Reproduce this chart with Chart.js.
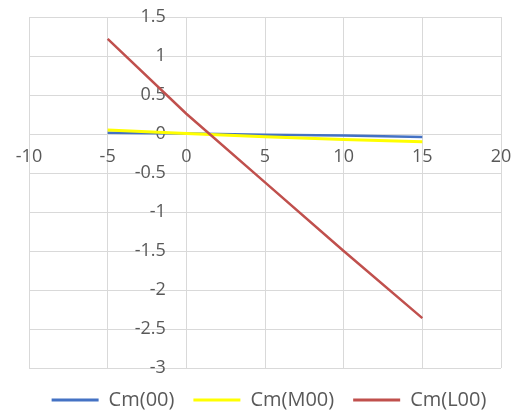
<!DOCTYPE html>
<html>
<head>
<meta charset="utf-8">
<script src="https://cdn.jsdelivr.net/npm/chart.js@4/dist/chart.umd.min.js"></script>
<style>
  html, body { margin: 0; padding: 0; background: #ffffff; }
  #wrap { width: 516px; height: 415px; }
</style>
</head>
<body>
<div id="wrap"><canvas id="c" width="516" height="415"></canvas></div>
<script>
// Moment coefficient samples against angle
const xValues = [-5, 0, 5, 10, 15];
const cm00 = [0.015, 0.005, -0.01, -0.02, -0.04];
const cmM00 = [0.05, 0.005, -0.035, -0.07, -0.10];
const cmL00 = [1.22, 0.26, -0.62, -1.50, -2.36];
const seriesNames = ['Cm(00)', 'Cm(M00)', 'Cm(L00)'];
const xTicks = [-10, -5, 0, 5, 10, 15, 20];
const yTicks = [1.5, 1, 0.5, 0, -0.5, -1, -1.5, -2, -2.5, -3];

const colors = ['#4472C4', '#FFFF00', '#C0504D'];
const widths = [2.5, 3, 2.5];
const seriesValues = [cm00, cmM00, cmL00];

const datasets = seriesValues.map((vals, i) => ({
  label: seriesNames[i],
  data: xValues.map((x, j) => ({ x: x, y: vals[j] })),
  borderColor: colors[i],
  backgroundColor: colors[i],
  borderWidth: widths[i],
  pointRadius: 0,
  showLine: true,
  tension: 0,
  order: 3 - i
}));

const gridColor = '#D9D9D9';
const tickColor = '#595959';
Chart.defaults.font.family = '"Open Sans", Lato, sans-serif';

// plot-area insets; the legend row keeps the wider span given by layout padding
const plotInset = (scale) => {
  scale.paddingTop = 0; scale.paddingBottom = 0;
  scale.paddingLeft = 29; scale.paddingRight = 15;
};

new Chart(document.getElementById('c'), {
  type: 'scatter',
  data: { datasets: datasets },
  options: {
    responsive: false,
    animation: false,
    layout: { padding: { top: 17, left: 22, right: 0, bottom: -5 } },
    scales: {
      x: {
        type: 'linear',
        position: { y: 0 },
        min: xTicks[0],
        max: xTicks[xTicks.length - 1],
        afterBuildTicks: (scale) => { scale.ticks = xTicks.map(v => ({ value: v })); },
        afterFit: plotInset,
        ticks: { color: tickColor, font: { size: 18 }, padding: 12, autoSkip: false, maxRotation: 0,
                 callback: (v) => String(v) },
        grid: { color: gridColor, drawTicks: false },
        border: { color: gridColor }
      },
      y: {
        type: 'linear',
        // labels sit a little left of the vertical zero line
        position: { x: -1.3 },
        min: yTicks[yTicks.length - 1],
        max: yTicks[0],
        afterBuildTicks: (scale) => { scale.ticks = yTicks.slice().reverse().map(v => ({ value: v })); },
        afterFit: plotInset,
        ticks: { color: tickColor, font: { size: 18 }, autoSkip: false,
                 callback: (v) => String(v) },
        grid: { color: gridColor, drawTicks: false },
        border: { display: false }
      }
    },
    plugins: {
      tooltip: { enabled: false },
      legend: {
        position: 'bottom',
        // empty title used only as a small spacer above the legend row
        title: { display: true, text: '', padding: { top: 2, bottom: 0 }, font: { size: 1, lineHeight: 1 } },
        labels: {
          color: tickColor,
          font: { size: 20 },
          boxWidth: 47,
          boxHeight: 3,
          padding: 19,
          generateLabels: (chart) => chart.data.datasets.map((ds, i) => ({
            text: ds.label,
            fillStyle: ds.borderColor,
            strokeStyle: ds.borderColor,
            lineWidth: 0,
            fontColor: tickColor,
            hidden: false,
            datasetIndex: i
          }))
        }
      }
    }
  }
});
</script>
</body>
</html>
